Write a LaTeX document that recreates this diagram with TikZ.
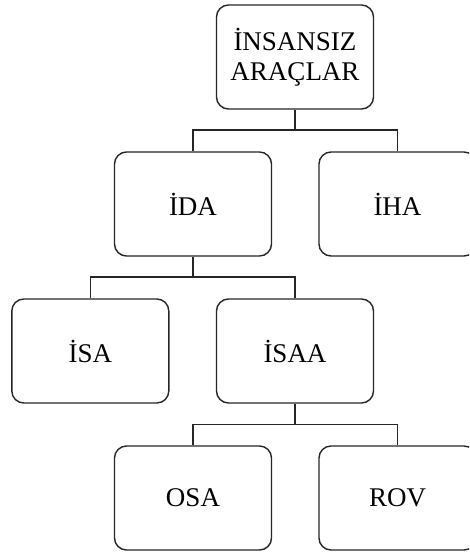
\documentclass[tikz,border=0pt]{standalone}
\usepackage{fontspec}
\setmainfont{Liberation Serif}
\begin{document}
\begin{tikzpicture}[x=1pt,y=-1pt,
  box/.style={draw=black!85, line width=1.4pt, rounded corners=12pt,
    minimum width=157pt, minimum height=104pt, inner sep=0pt,
    align=center, font=\fontsize{27}{30}\selectfont},
  link/.style={draw=black!85, line width=1.4pt}]
  \useasboundingbox (0,0) rectangle (469,552);
  \clip (0,0) rectangle (469,552);
  % boxes
  \node[box] (root) at (295,57)    {İNSANSIZ\\ARAÇLAR};
  \node[box] (ida)  at (193,204)   {İDA};
  \node[box] (iha)  at (397.5,204) {İHA};
  \node[box] (isa)  at (90.3,351)  {İSA};
  \node[box] (isaa) at (295,351)   {İSAA};
  \node[box] (osa)  at (193,498)   {OSA};
  \node[box] (rov)  at (397.5,498) {ROV};
  % bus levels of the tree connectors
  \coordinate (bus1) at (0,130);
  \coordinate (bus2) at (0,277);
  \coordinate (bus3) at (0,424.5);
  % connectors
  \draw[link] (root.south) -- (root.south |- bus1) -| (ida.north);
  \draw[link] (root.south |- bus1) -| (iha.north);
  \draw[link] (ida.south) -- (ida.south |- bus2) -| (isa.north);
  \draw[link] (ida.south |- bus2) -| (isaa.north);
  \draw[link] (isaa.south) -- (isaa.south |- bus3) -| (osa.north);
  \draw[link] (isaa.south |- bus3) -| (rov.north);
\end{tikzpicture}
\end{document}
